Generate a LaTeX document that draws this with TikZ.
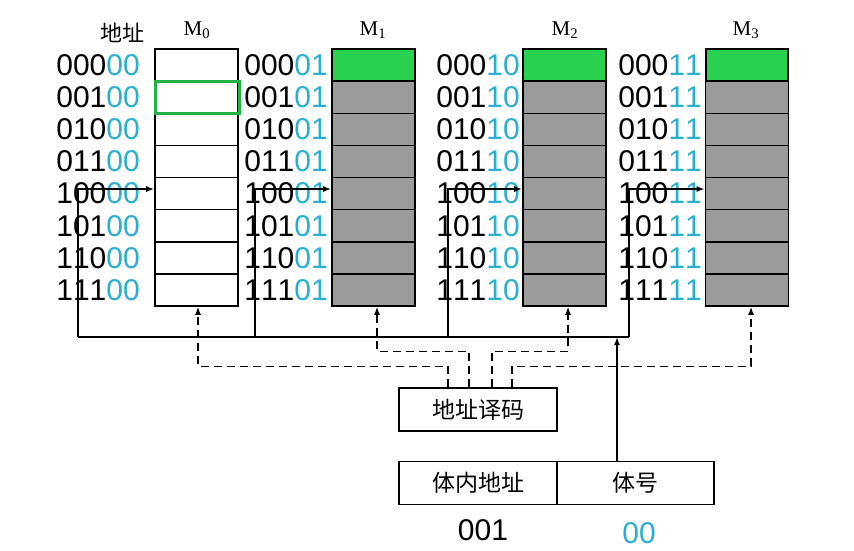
\documentclass[tikz,border=0pt]{standalone}
\usepackage{fontspec}
\setmainfont{Liberation Serif}
\newfontfamily\cjk{Noto Sans CJK SC}
\newfontfamily\numfont[Kerning=Off]{Liberation Sans}
\usetikzlibrary{arrows.meta}
\definecolor{bankcol}{RGB}{40,175,210}
\definecolor{hit}{RGB}{40,210,80}
\definecolor{cellgray}{RGB}{155,155,155}
\newcommand{\bk}[1]{\textcolor{bankcol}{#1}}

\begin{document}
\begin{tikzpicture}[x=1pt,y=-1pt,
    addr/.style={anchor=east,inner sep=0pt,font=\numfont\fontsize{30}{30}\selectfont},
    mem/.style={draw,line width=1.6pt,minimum width=83pt,minimum height=257pt,inner sep=0pt},
    box/.style={draw,line width=1.5pt,minimum height=43pt,inner sep=0pt,font=\cjk\fontsize{23}{23}\selectfont},
    lab/.style={font=\fontsize{21}{21}\selectfont},
    sel/.style={dash pattern=on 8pt off 5pt,line width=1.4pt},
    >={Latex[length=8pt,width=6pt]}]
  \useasboundingbox (0,0) rectangle (854,550);
  % memory banks
  \node[mem,fill=white] (m0) at (196.5,177.5) {};
  \node[mem,fill=cellgray] (m1) at (373.5,177.5) {};
  \node[mem,fill=cellgray] (m2) at (564.5,177.5) {};
  \node[mem,fill=cellgray] (m3) at (747,177.5) {};
  \filldraw[fill=hit,line width=1.6pt] (332,49) rectangle (415,81.1);
  \filldraw[fill=hit,line width=1.6pt] (523,49) rectangle (606,81.1);
  \filldraw[fill=hit,line width=1.6pt] (706,49) rectangle (788,81.1);
  \begin{scope}[line width=1.4pt]
    \draw (155,81.1) -- (238,81.1) (332,81.1) -- (415,81.1) (523,81.1) -- (606,81.1) (706,81.1) -- (788,81.1);
    \draw (155,113.3) -- (238,113.3) (332,113.3) -- (415,113.3) (523,113.3) -- (606,113.3) (706,113.3) -- (788,113.3);
    \draw (155,145.4) -- (238,145.4) (332,145.4) -- (415,145.4) (523,145.4) -- (606,145.4) (706,145.4) -- (788,145.4);
    \draw (155,177.5) -- (238,177.5) (332,177.5) -- (415,177.5) (523,177.5) -- (606,177.5) (706,177.5) -- (788,177.5);
    \draw (155,209.6) -- (238,209.6) (332,209.6) -- (415,209.6) (523,209.6) -- (606,209.6) (706,209.6) -- (788,209.6);
    \draw (155,241.8) -- (238,241.8) (332,241.8) -- (415,241.8) (523,241.8) -- (606,241.8) (706,241.8) -- (788,241.8);
    \draw (155,273.9) -- (238,273.9) (332,273.9) -- (415,273.9) (523,273.9) -- (606,273.9) (706,273.9) -- (788,273.9);
  \end{scope}
  \draw[hit!85!black,line width=3pt] (155,81.1) rectangle (239,113.3);
  % headings
  \node[font=\cjk\fontsize{22}{22}\selectfont] (head) at (122,33) {地址};
  \node[lab] (t0) at (197,30) {M\textsubscript{0}};
  \node[lab] (t1) at (373,30) {M\textsubscript{1}};
  \node[lab] (t2) at (565,30) {M\textsubscript{2}};
  \node[lab] (t3) at (746,30) {M\textsubscript{3}};
  % addresses
  \draw
    (140,65.1) node[addr] (a0){000\bk{00}}
    (140,97.2) node[addr] (a4){001\bk{00}}
    (140,129.3) node[addr] (a8){010\bk{00}}
    (140,161.4) node[addr] (a12){011\bk{00}}
    (140,193.6) node[addr] (a16){100\bk{00}}
    (140,225.7) node[addr] (a20){101\bk{00}}
    (140,257.8) node[addr] (a24){110\bk{00}}
    (140,289.9) node[addr] (a28){111\bk{00}}
    (328,65.1) node[addr] (a1){000\bk{01}}
    (328,97.2) node[addr] (a5){001\bk{01}}
    (328,129.3) node[addr] (a9){010\bk{01}}
    (328,161.4) node[addr] (a13){011\bk{01}}
    (328,193.6) node[addr] (a17){100\bk{01}}
    (328,225.7) node[addr] (a21){101\bk{01}}
    (328,257.8) node[addr] (a25){110\bk{01}}
    (328,289.9) node[addr] (a29){111\bk{01}}
    (520,65.1) node[addr] (a2){000\bk{10}}
    (520,97.2) node[addr] (a6){001\bk{10}}
    (520,129.3) node[addr] (a10){010\bk{10}}
    (520,161.4) node[addr] (a14){011\bk{10}}
    (520,193.6) node[addr] (a18){100\bk{10}}
    (520,225.7) node[addr] (a22){101\bk{10}}
    (520,257.8) node[addr] (a26){110\bk{10}}
    (520,289.9) node[addr] (a30){111\bk{10}}
    (702,65.1) node[addr] (a3){000\bk{11}}
    (702,97.2) node[addr] (a7){001\bk{11}}
    (702,129.3) node[addr] (a11){010\bk{11}}
    (702,161.4) node[addr] (a15){011\bk{11}}
    (702,193.6) node[addr] (a19){100\bk{11}}
    (702,225.7) node[addr] (a23){101\bk{11}}
    (702,257.8) node[addr] (a27){110\bk{11}}
    (702,289.9) node[addr] (a31){111\bk{11}};
  % decoder and address register
  \node[box,minimum width=158pt] (dec) at (478,409.5) {地址译码};
  \node[box,minimum width=158pt] (inner) at (478,483) {体内地址};
  \node[box,minimum width=157pt] (bank) at (635.5,483) {体号};
  \node[font=\numfont\fontsize{30}{30}\selectfont] (iv) at (483,530) {001};
  \node[font=\numfont\fontsize{30}{30}\selectfont,text=bankcol] (bv) at (639,533) {00};
  % bus
  \coordinate (b0) at (78,337);
  \coordinate (b1) at (255,337);
  \coordinate (b2) at (448,337);
  \coordinate (b3) at (629,337);
  \begin{scope}[line width=1.5pt]
    \draw (b0) -- (b3);
    \draw[->] (b0) |- ([yshift=-11.5pt]m0.west);
    \draw[->] (b1) |- ([yshift=-11.5pt]m1.west);
    \draw[->] (b2) |- ([yshift=-11.5pt]m2.west);
    \draw[->] (b3) |- ([yshift=-11.5pt]m3.west);
    \draw[->] (617,0 |- bank.north) -- (617,0 |- b3);
  \end{scope}
  % select lines
  \draw[sel,->] (448,0 |- dec.north) -- ++(0,-21) -| ([xshift=1.5pt]m0.south);
  \draw[sel,->] (469,0 |- dec.north) -- ++(0,-36) -| ([xshift=3.5pt]m1.south);
  \draw[sel,->] (492,0 |- dec.north) -- ++(0,-36) -| ([xshift=3.5pt]m2.south);
  \draw[sel,->] (512,0 |- dec.north) -- ++(0,-21) -| ([xshift=4pt]m3.south);
\end{tikzpicture}
\end{document}
